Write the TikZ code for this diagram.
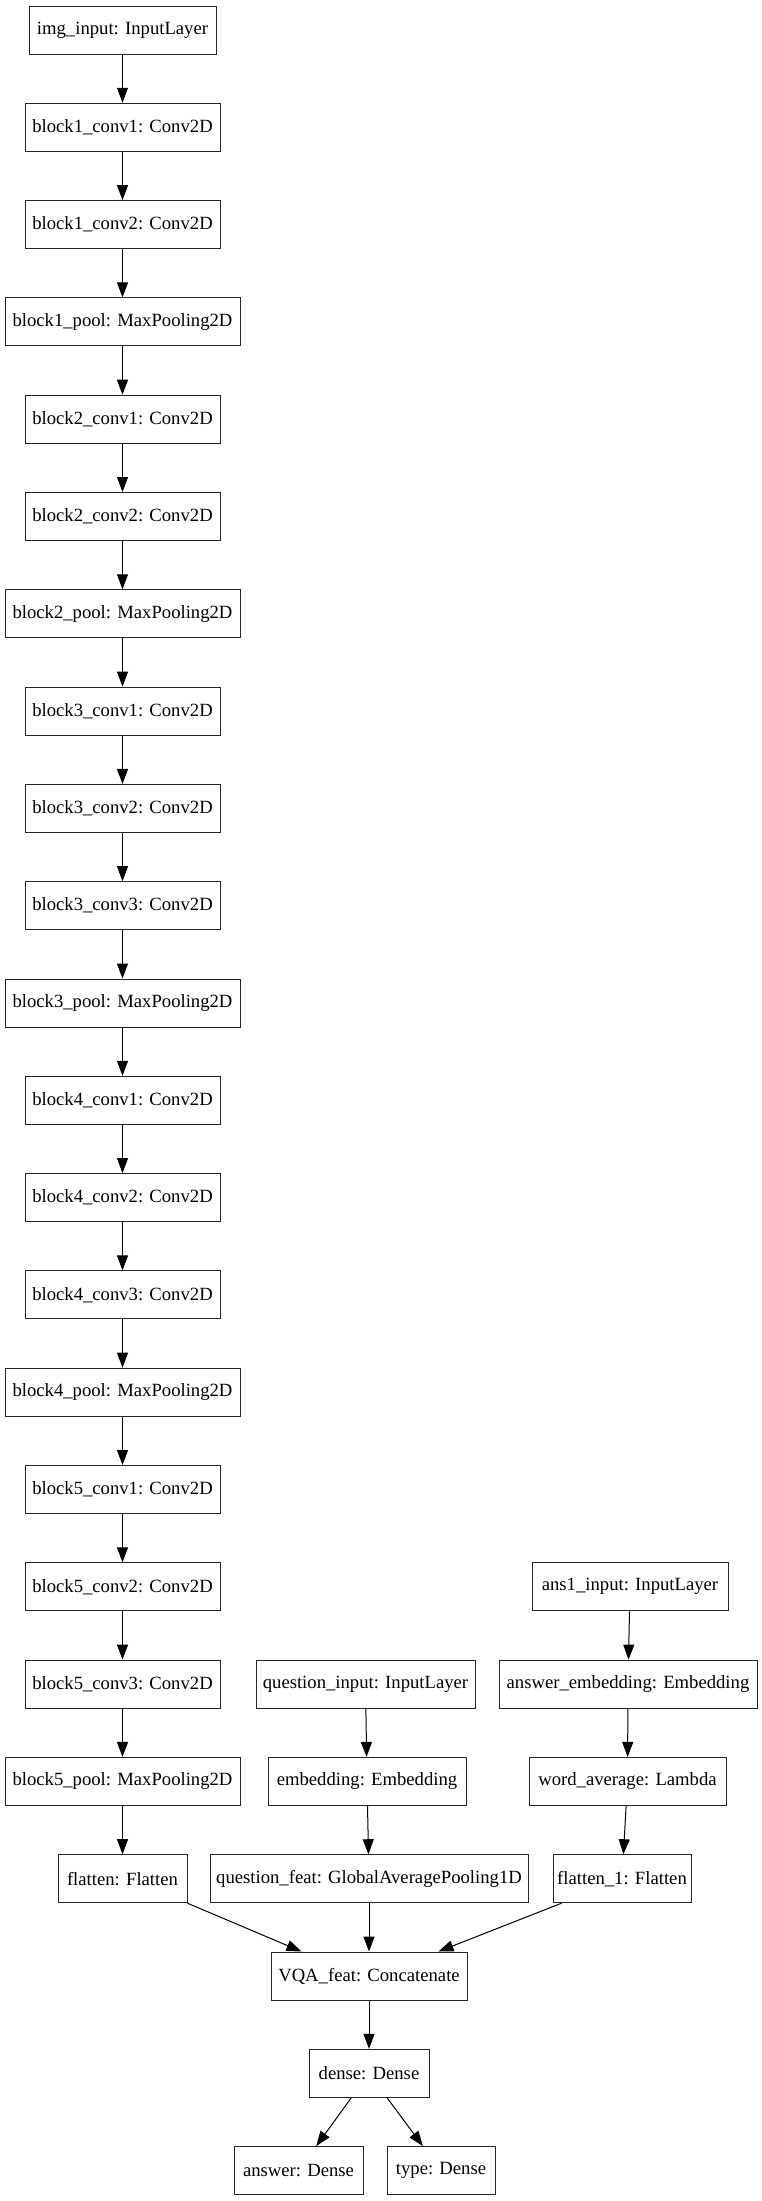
\documentclass[tikz,border=0pt]{standalone}
\usepackage{fontspec}
\setmainfont{Liberation Serif}
\usetikzlibrary{arrows.meta}
\begin{document}
\begin{tikzpicture}[x=1pt,y=-1pt,
  layer/.style={draw=black!85, line width=1pt, rectangle, minimum height=48pt, inner sep=0pt,
    font=\fontsize{18.67pt}{22pt}\selectfont},
  flow/.style={draw=black, line width=1pt, -{Triangle[length=15pt,width=11pt]}}]
\useasboundingbox (0,0) rectangle (762,2201);
% left column
\node[layer, minimum width=187pt] (img) at (122.5,30) {img\_input: InputLayer};
\node[layer, minimum width=195pt] (b1c1) at (122.5,127.3) {block1\_conv1: Conv2D};
\node[layer, minimum width=195pt] (b1c2) at (122.5,224.6) {block1\_conv2: Conv2D};
\node[layer, minimum width=235pt] (b1p) at (122.5,321.9) {block1\_pool: MaxPooling2D};
\node[layer, minimum width=195pt] (b2c1) at (122.5,419.2) {block2\_conv1: Conv2D};
\node[layer, minimum width=195pt] (b2c2) at (122.5,516.5) {block2\_conv2: Conv2D};
\node[layer, minimum width=235pt] (b2p) at (122.5,613.8) {block2\_pool: MaxPooling2D};
\node[layer, minimum width=195pt] (b3c1) at (122.5,711.1) {block3\_conv1: Conv2D};
\node[layer, minimum width=195pt] (b3c2) at (122.5,808.4) {block3\_conv2: Conv2D};
\node[layer, minimum width=195pt] (b3c3) at (122.5,905.7) {block3\_conv3: Conv2D};
\node[layer, minimum width=235pt] (b3p) at (122.5,1003) {block3\_pool: MaxPooling2D};
\node[layer, minimum width=195pt] (b4c1) at (122.5,1100.3) {block4\_conv1: Conv2D};
\node[layer, minimum width=195pt] (b4c2) at (122.5,1197.6) {block4\_conv2: Conv2D};
\node[layer, minimum width=195pt] (b4c3) at (122.5,1294.9) {block4\_conv3: Conv2D};
\node[layer, minimum width=235pt] (b4p) at (122.5,1392.2) {block4\_pool: MaxPooling2D};
\node[layer, minimum width=195pt] (b5c1) at (122.5,1489.5) {block5\_conv1: Conv2D};
\node[layer, minimum width=195pt] (b5c2) at (122.5,1586.8) {block5\_conv2: Conv2D};
\node[layer, minimum width=195pt] (b5c3) at (122.5,1684.1) {block5\_conv3: Conv2D};
\node[layer, minimum width=235pt] (b5p) at (122.5,1781.4) {block5\_pool: MaxPooling2D};
\node[layer, minimum width=129pt] (flat) at (122.5,1878.7) {flatten: Flatten};
% middle column
\node[layer, minimum width=219pt] (qin) at (365.5,1684.1) {question\_input: InputLayer};
\node[layer, minimum width=198pt] (emb) at (367,1781.4) {embedding: Embedding};
\node[layer, minimum width=318pt] (qf) at (369,1878.7) {question\_feat: GlobalAveragePooling1D};
% right column
\node[layer, minimum width=196pt] (ans1) at (630,1586.8) {ans1\_input: InputLayer};
\node[layer, minimum width=258pt] (aemb) at (628,1684.1) {answer\_embedding: Embedding};
\node[layer, minimum width=197pt] (wavg) at (627.5,1781.4) {word\_average: Lambda};
\node[layer, minimum width=138pt] (flat1) at (622,1878.7) {flatten\_1: Flatten};
% bottom
\node[layer, minimum width=196pt] (vqa) at (369,1976) {VQA\_feat: Concatenate};
\node[layer, minimum width=120pt] (dense) at (369,2073.3) {dense: Dense};
\node[layer, minimum width=129pt] (answer) at (298.5,2170.6) {answer: Dense};
\node[layer, minimum width=108pt] (type) at (441,2170.6) {type: Dense};
% edges
\draw[flow] (img) -- (b1c1);
\draw[flow] (b1c1) -- (b1c2);
\draw[flow] (b1c2) -- (b1p);
\draw[flow] (b1p) -- (b2c1);
\draw[flow] (b2c1) -- (b2c2);
\draw[flow] (b2c2) -- (b2p);
\draw[flow] (b2p) -- (b3c1);
\draw[flow] (b3c1) -- (b3c2);
\draw[flow] (b3c2) -- (b3c3);
\draw[flow] (b3c3) -- (b3p);
\draw[flow] (b3p) -- (b4c1);
\draw[flow] (b4c1) -- (b4c2);
\draw[flow] (b4c2) -- (b4c3);
\draw[flow] (b4c3) -- (b4p);
\draw[flow] (b4p) -- (b5c1);
\draw[flow] (b5c1) -- (b5c2);
\draw[flow] (b5c2) -- (b5c3);
\draw[flow] (b5c3) -- (b5p);
\draw[flow] (b5p) -- (flat);
\draw[flow] (qin) -- (emb);
\draw[flow] (emb) -- (qf);
\draw[flow] (ans1) -- (aemb);
\draw[flow] (aemb) -- (wavg);
\draw[flow] (wavg) -- (flat1);
\draw[flow] (flat.south east) -- ([xshift=31pt]vqa.north west);
\draw[flow] (qf) -- (vqa);
\draw[flow] ([xshift=9pt]flat1.south west) -- ([xshift=-29pt]vqa.north east);
\draw[flow] (vqa) -- (dense);
\draw[flow] (dense) -- (answer);
\draw[flow] (dense) -- (type);
\end{tikzpicture}
\end{document}
